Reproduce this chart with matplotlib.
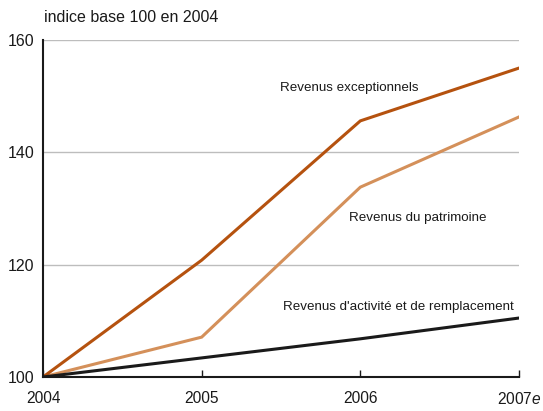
import matplotlib.pyplot as plt

plt.rcParams['font.family'] = ['Liberation Sans', 'DejaVu Sans']
plt.rcParams['mathtext.fontset'] = 'custom'
plt.rcParams['mathtext.it'] = 'Liberation Sans:italic'
plt.rcParams['mathtext.rm'] = 'Liberation Sans'

years = [2004, 2005, 2006, 2007]
year_labels = ['2004', '2005', '2006', '2007$\\mathit{e}$']
exceptionnels = [100, 120.8, 145.6, 155.0]
patrimoine = [100, 107.1, 133.8, 146.3]
activite = [100, 103.4, 106.8, 110.5]

fig = plt.figure(figsize=(5.43, 4.11), dpi=100)
ax = fig.add_axes([0.0792, 0.0827, 0.8766, 0.82])

# grid lines
for v in [120, 140, 160]:
    ax.axhline(v, color='#bdbdbd', lw=1, zorder=0)

ax.plot(years, patrimoine, color='#d4905a', lw=2.2, solid_joinstyle='miter')
ax.plot(years, exceptionnels, color='#b5520f', lw=2.2, solid_joinstyle='miter')
ax.plot(years, activite, color='#1a1a1a', lw=2.2, solid_joinstyle='miter')

ax.set_xlim(2004, 2007)
ax.set_ylim(100, 160)
ax.set_xticks(years)
ax.set_xticklabels(year_labels, fontsize=11.2)
ax.set_yticks([100, 120, 140, 160])
ax.set_yticklabels(['100', '120', '140', '160'], fontsize=11.5)
ax.tick_params(axis='x', direction='in', length=5, width=1, pad=10, colors='#1a1a1a')
ax.tick_params(axis='y', length=0, pad=6, colors='#1a1a1a')
for s in ['top', 'right']:
    ax.spines[s].set_visible(False)
ax.spines['left'].set_color('#1a1a1a')
ax.spines['bottom'].set_color('#1a1a1a')
ax.spines['left'].set_linewidth(1.5)
ax.spines['bottom'].set_linewidth(1.5)

ax.text(2004 + 0.005, 162.6, 'indice base 100 en 2004', fontsize=11.5, ha='left', va='bottom', color='#1a1a1a')
ax.text(2005.93, 151.4, 'Revenus exceptionnels', fontsize=9.6, ha='center', va='center', color='#1a1a1a')
ax.text(2006.36, 128.3, 'Revenus du patrimoine', fontsize=9.6, ha='center', va='center', color='#1a1a1a')
ax.text(2006.24, 112.5, "Revenus d'activité et de remplacement", fontsize=9.6, ha='center', va='center', color='#1a1a1a')

fig.savefig('out.png', dpi=100)
